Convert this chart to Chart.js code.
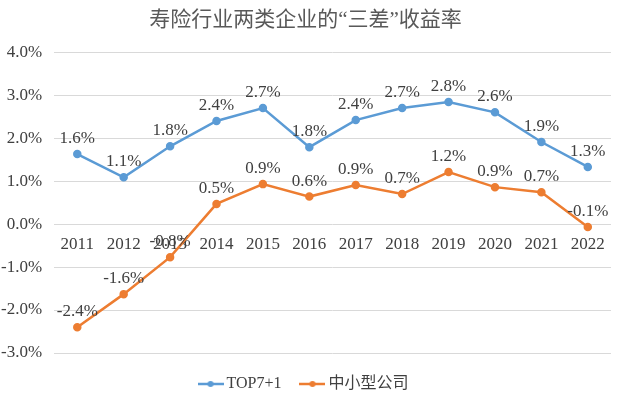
<!DOCTYPE html>
<html>
<head>
<meta charset="utf-8">
<script src="https://cdn.jsdelivr.net/npm/chart.js@4"></script>
<style>
  html, body { margin: 0; padding: 0; background: #fff; }
  #wrap { width: 625px; height: 402px; }
</style>
</head>
<body>
<div id="wrap"><canvas id="c"></canvas></div>
<script>
const years = ["2011","2012","2013","2014","2015","2016","2017","2018","2019","2020","2021","2022"];
const top8 = [1.63, 1.09, 1.81, 2.40, 2.70, 1.79, 2.42, 2.70, 2.84, 2.60, 1.91, 1.33];
const smallMid = [-2.40, -1.63, -0.77, 0.47, 0.93, 0.64, 0.91, 0.70, 1.21, 0.86, 0.74, -0.07];
const seriesNames = ["TOP7+1", "中小型公司"];
const seriesColors = ["#5B9BD5", "#ED7D31"];

const serif = "'Liberation Serif', 'Times New Roman', 'Noto Sans CJK SC', serif";

function legendIcon(color) {
  const cv = document.createElement("canvas");
  cv.width = 26; cv.height = 10;
  const g = cv.getContext("2d");
  g.strokeStyle = color; g.lineWidth = 2.5;
  g.beginPath(); g.moveTo(0, 5); g.lineTo(26, 5); g.stroke();
  g.fillStyle = color;
  g.beginPath(); g.arc(13, 5, 3, 0, Math.PI * 2); g.fill();
  return cv;
}

// value labels above each point, like the Excel data labels
const valueLabels = {
  id: "valueLabels",
  afterDatasetsDraw(chart) {
    const ctx = chart.ctx;
    ctx.save();
    ctx.font = "17px " + serif;
    ctx.fillStyle = "#404040";
    ctx.textAlign = "center";
    ctx.textBaseline = "alphabetic";
    chart.data.datasets.forEach((ds, i) => {
      chart.getDatasetMeta(i).data.forEach((pt, j) => {
        ctx.fillText(ds.data[j].toFixed(1) + "%", pt.x, pt.y - 11);
      });
    });
    ctx.restore();
  }
};

new Chart(document.getElementById("c"), {
  type: "line",
  data: {
    labels: years,
    datasets: [
      { label: seriesNames[0], data: top8, borderColor: seriesColors[0], backgroundColor: seriesColors[0],
        borderWidth: 2.5, pointRadius: 3, tension: 0 },
      { label: seriesNames[1], data: smallMid, borderColor: seriesColors[1], backgroundColor: seriesColors[1],
        borderWidth: 2.5, pointRadius: 3, tension: 0 }
    ]
  },
  options: {
    responsive: true,
    maintainAspectRatio: false,
    animation: false,
    layout: { padding: { left: 0, right: 14, top: 0, bottom: 0 } },
    plugins: {
      title: {
        display: true,
        text: "寿险行业两类企业的“三差”收益率",
        color: "#595959",
        font: { family: serif, size: 21, weight: "normal" },
        padding: { top: 8, bottom: 19 }
      },
      legend: {
        position: "bottom",
        labels: {
          usePointStyle: true,
          color: "#404040",
          font: { family: serif, size: 16 },
          padding: 23,
          generateLabels(chart) {
            return chart.data.datasets.map((ds, i) => ({
              text: ds.label,
              pointStyle: legendIcon(seriesColors[i]),
              fillStyle: seriesColors[i],
              strokeStyle: seriesColors[i],
              lineWidth: 0,
              fontColor: "#404040",
              datasetIndex: i,
              hidden: false
            }));
          }
        }
      },
      tooltip: { enabled: false }
    },
    scales: {
      x: {
        position: { y: 0 },
        offset: true,
        grid: { display: false },
        border: { display: false },
        ticks: { color: "#404040", font: { family: serif, size: 17 }, maxRotation: 0, padding: 2 }
      },
      y: {
        min: -3, max: 4,
        afterFit: (axis) => { axis.width -= 11; },
        grid: { color: "#d9d9d9", drawTicks: false },
        border: { display: false },
        ticks: { stepSize: 1, color: "#404040", font: { family: serif, size: 17 }, padding: 12,
                 callback: (v) => v.toFixed(1) + "%" }
      }
    }
  },
  plugins: [valueLabels]
});
</script>
</body>
</html>
